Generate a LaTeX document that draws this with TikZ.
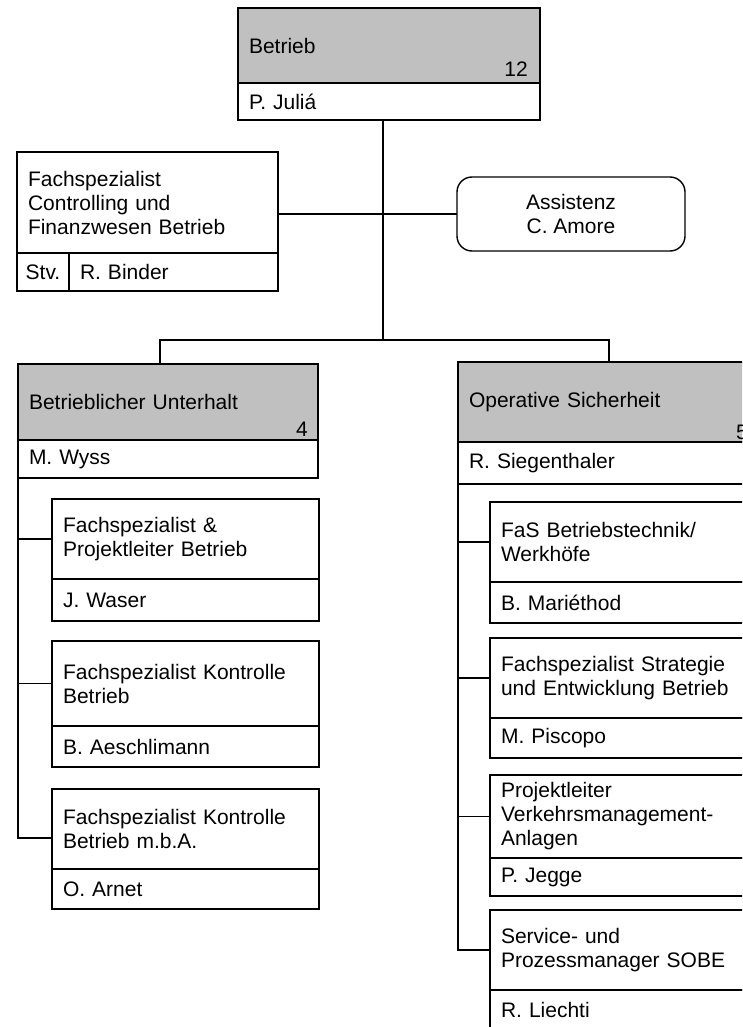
\documentclass[tikz,border=0pt]{standalone}
\usepackage{fontspec}
\setmainfont{Liberation Sans}
\usepackage{tikz}

\definecolor{headgray}{RGB}{192,192,192}

\tikzset{
  cell/.style 2 args={draw, line width=1.4pt, anchor=north west, outer sep=0pt, minimum width=#1pt, minimum height=#2pt,
    text width=#1pt-22pt, inner xsep=11pt, inner ysep=0pt, align=left},
  head/.style={fill=headgray},
  count/.style={anchor=base east, inner sep=0pt},
  tag/.style={draw, line width=1.4pt, anchor=north west, outer sep=0pt, minimum width=52pt, minimum height=38pt, inner sep=0pt},
  roundcell/.style={draw, line width=1.4pt, rounded corners=15pt, anchor=north west, outer sep=0pt, minimum width=228pt,
    minimum height=74pt, align=center},
  link/.style={line width=1.4pt},
}

\begin{document}
\begin{tikzpicture}[x=1pt, y=-1pt, font=\fontsize{21}{24}\selectfont]

\useasboundingbox (0,0) rectangle (742,1027);
\clip (0,0) rectangle (742,1027);

\node[cell={302}{75}, head] (betrieb) at (238,8) {Betrieb};
\node[count, xshift=-12pt, yshift=6pt] (betriebcount) at (betrieb.south east) {12};
\node[cell={302}{37}] (betriebname) at (betrieb.south west) {P. Juliá};

\node[cell={261}{101}] (fachctrl) at (17,152) {Fachspezialist\\Controlling und\\Finanzwesen Betrieb};
\node[tag] (stv) at (fachctrl.south west) {Stv.};
\node[cell={209}{38}] (binder) at (stv.north east) {R. Binder};

\node[roundcell] (assist) at (457,177) {Assistenz\\C. Amore};

\coordinate (stem) at ([xshift=-6pt]betriebname.south);
\coordinate (bar) at (stem |- 0,340);

\draw[link] (stem) -- (bar);
\draw[link] (fachctrl.east |- assist.west) -- (assist.west);

\node[cell={300}{76}, head] (unterhalt) at (18,364) {Betrieblicher Unterhalt};
\node[count, xshift=-10pt, yshift=4pt] (unterhaltcount) at (unterhalt.south east) {4};
\node[cell={300}{38}] (wyss) at (unterhalt.south west) {M. Wyss};

\node[cell={302}{80}, head] (sicherheit) at (458,362) {Operative Sicherheit};
\node[count, xshift=-12pt, yshift=3pt] (sicherheitcount) at (sicherheit.south east) {5};
\node[cell={302}{42}] (siegenthaler) at (sicherheit.south west) {R. Siegenthaler};

\draw[link] ([xshift=-8pt]unterhalt.north) |- (bar) -| (sicherheit.north);

\node[cell={267}{80}] (waser) at (52,499) {Fachspezialist \&\\Projektleiter Betrieb};
\node[cell={267}{42}] (wasername) at (waser.south west) {J. Waser};
\node[cell={267}{85}] (kontrolle) at (52,641) {Fachspezialist Kontrolle\\Betrieb};
\node[cell={267}{41}] (kontrollename) at (kontrolle.south west) {B. Aeschlimann};
\node[cell={267}{80}] (mba) at (52,789) {Fachspezialist Kontrolle\\Betrieb m.b.A.};
\node[cell={267}{40}] (mbaname) at (mba.south west) {O. Arnet};

\draw[link] (wyss.south west) |- ([yshift=-9pt]mba.west);
\draw[link] (wyss.south west |- waser.west) -- (waser.west);
\draw[link] (wyss.south west |- kontrolle.west) -- (kontrolle.west);

\node[cell={270}{80}] (technik) at (490,502) {FaS Betriebstechnik/\\Werkhöfe};
\node[cell={270}{41}] (technikname) at (technik.south west) {B. Mariéthod};
\node[cell={270}{80}] (strategie) at (490,638) {Fachspezialist Strategie\\und Entwicklung Betrieb};
\node[cell={270}{40}] (strategiename) at (strategie.south west) {M. Piscopo};
\node[cell={270}{83}] (anlagen) at (490,775) {Projektleiter\\Verkehrsmanagement-\\Anlagen};
\node[cell={270}{38}] (anlagenname) at (anlagen.south west) {P. Jegge};
\node[cell={270}{80}] (sobe) at (490,910) {Service- und\\Prozessmanager SOBE};
\node[cell={270}{40}] (sobename) at (sobe.south west) {R. Liechti};

\draw[link] (siegenthaler.south west) |- (sobe.west);
\draw[link] (siegenthaler.south west |- technik.west) -- (technik.west);
\draw[link] (siegenthaler.south west |- strategie.west) -- (strategie.west);
\draw[link] (siegenthaler.south west |- anlagen.west) -- (anlagen.west);

\end{tikzpicture}
\end{document}
